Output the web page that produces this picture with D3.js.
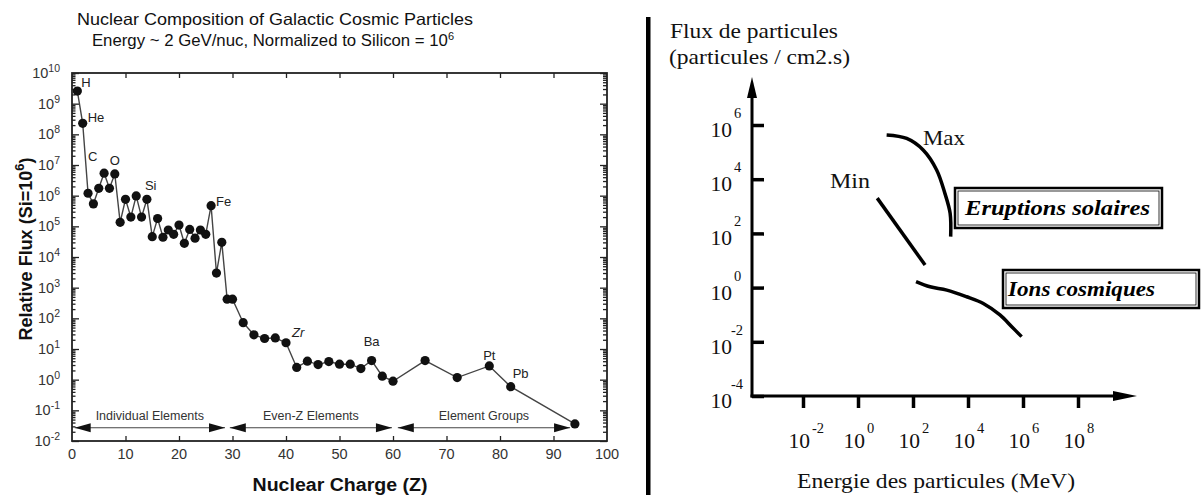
<!DOCTYPE html>
<html><head><meta charset="utf-8">
<script src="https://cdn.jsdelivr.net/npm/d3@7"></script>
<style>body{margin:0;background:#fff}svg{display:block}</style>
</head><body>
<svg id="fig" width="1201" height="495"></svg>
<script>
// ---------- Left panel: nuclear composition of galactic cosmic rays ----------
const chargeZ = [1,2,3,4,5,6,7,8,9,10,11,12,13,14,15,16,17,18,19,20,21,22,23,24,25,26,27,28,29,30,
  32,34,36,38,40,42,44,46,48,50,52,54,56,58,60,66,72,78,82,94];
const relFlux = [2.57e9,2.29e8,1.2e6,5.4e5,1.74e6,5.4e6,1.74e6,5.1e6,1.35e5,7.6e5,2.0e5,9.8e5,2.0e5,7.6e5,
  4.6e4,1.8e5,4.4e4,7.6e4,5.5e4,1.1e5,2.8e4,7.9e4,4.1e4,7.6e4,5.5e4,4.7e5,3.0e3,3.0e4,420,420,
  72,29,22,23,16,2.5,4.0,3.1,3.9,3.2,3.2,2.3,4.2,1.3,0.89,4.2,1.17,2.8,0.59,0.036];
const elementNames = ["H","He","C","O","Si","Fe","Zr","Ba","Pt","Pb"];
const elementZ     = [1,2,6,8,14,26,40,56,78,82];
const regionNames  = ["Individual Elements","Even-Z Elements","Element Groups"];
const regionFrom   = [0.5,29.5,60.9];
const regionTo     = [28.6,59.8,93.1];
const regionLevel  = 0.027;
const fluxExps     = [-2,-1,0,1,2,3,4,5,6,7,8,9,10];
const chargeTicks  = [0,10,20,30,40,50,60,70,80,90,100];

// ---------- Right panel: particle flux versus energy ----------
const energyExps   = [-2,0,2,4,6,8];
const fluxExpsR    = [6,4,2,0,-2,-4];
const flareMaxE    = [11,59,234,724,1445,2239,2344];
const flareMaxF    = [4.3e5,3.2e5,1.2e5,2.2e4,3.0e3,550,76];
const flareMinE    = [5,275];
const flareMinF    = [2.0e3,6.8];
const cosmicE      = [129,417,1698,8913,3.6e4,1.45e5,3.9e5,8.9e5];
const cosmicF      = [1.66,1.07,0.81,0.46,0.26,0.098,0.036,0.0155];

const svg = d3.select("#fig");
const sans = "'Liberation Sans', Arial, Helvetica, sans-serif";
const serif = "'Liberation Serif', 'Times New Roman', serif";

// superscript helper: base text followed by raised exponent
function powText(sel, base, exp, expSize, rise) {
  sel.append("tspan").text(base);
  sel.append("tspan").attr("dy", -rise).attr("font-size", expSize).text(exp);
}

/* ===== left panel ===== */
const L = {x0: 72, x1: 607, y0: 73, y1: 441};
const x = d3.scaleLinear().domain([0, 100]).range([L.x0, L.x1]);
const y = d3.scaleLog().domain([1e-2, 1e10]).range([L.y1, L.y0]);
const gl = svg.append("g");

const majors = fluxExps.map(e => Math.pow(10, e));
const minors = [];
fluxExps.slice(0, -1).forEach(e => { for (let k = 2; k < 10; k++) minors.push(k * Math.pow(10, e)); });

function tickAxis(axis, tx, ty) {
  const g = gl.append("g").attr("transform", `translate(${tx},${ty})`).call(axis);
  g.select(".domain").remove();
  g.selectAll("line").attr("stroke", "#222").attr("stroke-width", 1.3);
  g.selectAll("text").remove();
  return g;
}
tickAxis(d3.axisLeft(y).tickValues(majors).tickSize(-7), L.x0, 0);
tickAxis(d3.axisLeft(y).tickValues(minors).tickSize(-3.5), L.x0, 0);
tickAxis(d3.axisRight(y).tickValues(majors).tickSize(-7), L.x1, 0);
tickAxis(d3.axisRight(y).tickValues(minors).tickSize(-4), L.x1, 0);
tickAxis(d3.axisTop(x).tickValues(chargeTicks.slice(1, -1)).tickSize(-5), 0, L.y0);
tickAxis(d3.axisBottom(x).tickValues(chargeTicks.slice(1, -1)).tickSize(-5), 0, L.y1);

gl.append("rect").attr("x", L.x0).attr("y", L.y0)
  .attr("width", L.x1 - L.x0).attr("height", L.y1 - L.y0)
  .attr("fill", "none").attr("stroke", "#222").attr("stroke-width", 1.8);

// y tick labels 10^n
fluxExps.forEach(e => {
  const t = gl.append("text").attr("x", 60).attr("y", y(Math.pow(10, e)) + 5)
    .attr("text-anchor", "end").attr("font-family", sans).attr("font-size", 14.5).attr("fill", "#333");
  powText(t, "10", e, 10.5, 6);
});
// x tick labels
gl.selectAll(".xl").data(chargeTicks).join("text")
  .attr("x", d => x(d)).attr("y", 459).attr("text-anchor", "middle")
  .attr("font-family", sans).attr("font-size", 14.5).attr("fill", "#333").text(d => d);

// titles
gl.append("text").attr("x", 275).attr("y", 25).attr("text-anchor", "middle")
  .attr("font-family", sans).attr("font-size", 16.5).attr("fill", "#111")
  .attr("textLength", 396).attr("lengthAdjust", "spacingAndGlyphs")
  .text("Nuclear Composition of Galactic Cosmic Particles");
const st = gl.append("text").attr("x", 273).attr("y", 46).attr("text-anchor", "middle")
  .attr("font-family", sans).attr("font-size", 16).attr("fill", "#111");
st.append("tspan").attr("textLength", 356).attr("lengthAdjust", "spacingAndGlyphs")
  .text("Energy ~ 2 GeV/nuc, Normalized to Silicon = 10");
st.append("tspan").attr("dy", -6).attr("font-size", 11).text("6");

const yl = gl.append("text").attr("transform", "translate(32,249) rotate(-90)")
  .attr("text-anchor", "middle").attr("font-family", sans).attr("font-size", 18)
  .attr("font-weight", "bold").attr("fill", "#111");
yl.append("tspan").text("Relative Flux (Si=10");
yl.append("tspan").attr("dy", -8).attr("font-size", 13).text("6");
yl.append("tspan").attr("dy", 8).text(")");

gl.append("text").attr("x", 340).attr("y", 491).attr("text-anchor", "middle")
  .attr("font-family", sans).attr("font-size", 18).attr("font-weight", "bold").attr("fill", "#111")
  .attr("textLength", 175).attr("lengthAdjust", "spacingAndGlyphs")
  .text("Nuclear Charge (Z)");

// region arrows
const ay = y(regionLevel);
regionNames.forEach((name, i) => {
  const a = x(regionFrom[i]), b = x(regionTo[i]);
  gl.append("line").attr("x1", a).attr("x2", b).attr("y1", ay).attr("y2", ay)
    .attr("stroke", "#444").attr("stroke-width", 1.2);
  gl.append("path").attr("d", `M${a},${ay}L${a + 16},${ay - 4.5}L${a + 16},${ay + 4.5}Z`).attr("fill", "#111");
  gl.append("path").attr("d", `M${b},${ay}L${b - 16},${ay - 4.5}L${b - 16},${ay + 4.5}Z`).attr("fill", "#111");
  gl.append("text").attr("x", (a + b) / 2).attr("y", ay - 8).attr("text-anchor", "middle")
    .attr("font-family", sans).attr("font-size", 12.5).attr("fill", "#333").text(name);
});

// data line and points
const pts = chargeZ.map((z, i) => [z, relFlux[i]]);
gl.append("path").datum(pts)
  .attr("d", d3.line().x(d => x(d[0])).y(d => y(d[1])))
  .attr("fill", "none").attr("stroke", "#444").attr("stroke-width", 1.4);
gl.selectAll(".pt").data(pts).join("circle")
  .attr("cx", d => x(d[0])).attr("cy", d => y(d[1])).attr("r", 4.6).attr("fill", "#111");

// element labels, placed beside their points
const labelOffset = {H:[4,-4,"start"], He:[5,-1,"start"], C:[-16,-12,"start"], O:[0,-9,"middle"],
  Si:[-2,-9,"start"], Fe:[5,0,"start"], Zr:[6,-6,"start"], Ba:[0,-15,"middle"],
  Pt:[0,-6,"middle"], Pb:[2,-9,"start"]};
elementNames.forEach((n, i) => {
  const k = chargeZ.indexOf(elementZ[i]);
  const o = labelOffset[n];
  gl.append("text").attr("x", x(chargeZ[k]) + o[0]).attr("y", y(relFlux[k]) + o[1])
    .attr("text-anchor", o[2]).attr("font-family", sans).attr("font-size", 13)
    .attr("font-style", n === "Zr" ? "italic" : "normal").attr("fill", "#222").text(n);
});

// separator between the panels
svg.append("rect").attr("x", 646).attr("y", 17).attr("width", 4.5).attr("height", 478).attr("fill", "#000");

/* ===== right panel ===== */
const R = {ox: 752, oy: 396, top: 77, right: 1137};
const xr = d3.scaleLog().domain([1e-2, 1e8]).range([803, 1078]);
const yr = d3.scaleLog().domain([1e-4, 1e6]).range([396, 125]);
const gr = svg.append("g");

function serifText(tx, ty, str, len, extra) {
  const t = gr.append("text").attr("x", tx).attr("y", ty).attr("font-family", serif)
    .attr("font-size", 21).attr("fill", "#111").text(str);
  if (len) t.attr("textLength", len).attr("lengthAdjust", "spacingAndGlyphs");
  if (extra) extra(t);
  return t;
}
serifText(670, 38, "Flux de particules", 168);
serifText(669, 64, "(particules / cm2.s)", 181);

// axes with arrowheads
gr.append("line").attr("x1", R.ox).attr("x2", R.ox).attr("y1", R.oy + 1.5).attr("y2", R.top + 12)
  .attr("stroke", "#000").attr("stroke-width", 3);
gr.append("path").attr("d", `M${R.ox},${R.top}L${R.ox - 5},${R.top + 21}L${R.ox + 5},${R.top + 21}Z`).attr("fill", "#000");
gr.append("line").attr("x1", R.ox - 1.5).attr("x2", R.right - 12).attr("y1", R.oy).attr("y2", R.oy)
  .attr("stroke", "#000").attr("stroke-width", 3);
gr.append("path").attr("d", `M${R.right},${R.oy}L${R.right - 24},${R.oy - 5}L${R.right - 24},${R.oy + 5}Z`).attr("fill", "#000");

const gxa = gr.append("g").attr("transform", `translate(0,${R.oy})`)
  .call(d3.axisBottom(xr).tickValues(energyExps.map(e => Math.pow(10, e))).tickSize(12).tickFormat(""));
gxa.select(".domain").remove();
gxa.selectAll("line").attr("stroke", "#000").attr("stroke-width", 3.5);
const gya = gr.append("g").attr("transform", `translate(${R.ox},0)`)
  .call(d3.axisLeft(yr).tickValues(fluxExpsR.map(e => Math.pow(10, e))).tickSize(-12).tickFormat(""));
gya.select(".domain").remove();
gya.selectAll("line").attr("stroke", "#000").attr("stroke-width", 3.5);

energyExps.forEach(e => {
  const px = xr(Math.pow(10, e));
  gr.append("text").attr("x", px + 7).attr("y", 448).attr("text-anchor", "end")
    .attr("font-family", serif).attr("font-size", 21.5).attr("fill", "#111").text("10");
  gr.append("text").attr("x", px + 9).attr("y", 433).attr("font-family", serif)
    .attr("font-size", 14.5).attr("fill", "#111").text(e);
});
fluxExpsR.forEach(e => {
  const py = yr(Math.pow(10, e));
  gr.append("text").attr("x", 732).attr("y", py + 12).attr("text-anchor", "end")
    .attr("font-family", serif).attr("font-size", 21.5).attr("fill", "#111").text("10");
  gr.append("text").attr("x", e < 0 ? 731 : 734).attr("y", py - 7).attr("font-family", serif)
    .attr("font-size", 14.5).attr("fill", "#111").text(e);
});

serifText(797, 488, "Energie des particules (MeV)", 278);

// spectra
const curve = d3.line().x(d => xr(d[0])).y(d => yr(d[1])).curve(d3.curveCatmullRom.alpha(0.5));
[[flareMaxE, flareMaxF], [flareMinE, flareMinF], [cosmicE, cosmicF]].forEach(([es, fs]) => {
  gr.append("path").datum(es.map((v, i) => [v, fs[i]])).attr("d", curve)
    .attr("fill", "none").attr("stroke", "#000").attr("stroke-width", 3.5).attr("stroke-linecap", "butt");
});

serifText(923, 145, "Max", 42);
serifText(830, 188, "Min", 40);

// framed captions
function framed(bx, by, bw, bh, label, tx, ty, len) {
  gr.append("rect").attr("x", bx).attr("y", by).attr("width", bw).attr("height", bh)
    .attr("fill", "#fff").attr("stroke", "#000").attr("stroke-width", 2.5);
  gr.append("rect").attr("x", bx + 3).attr("y", by + 3).attr("width", bw - 6).attr("height", bh - 6)
    .attr("fill", "none").attr("stroke", "#000").attr("stroke-width", 0.8);
  serifText(tx, ty, label, len, t => t.attr("font-weight", "bold").attr("font-style", "italic").attr("fill", "#000"));
}
framed(955, 188, 207, 40, "Eruptions solaires", 965, 215, 185);
framed(1003, 270, 196, 38, "Ions cosmiques", 1008, 296, 147);
</script>
</body></html>
